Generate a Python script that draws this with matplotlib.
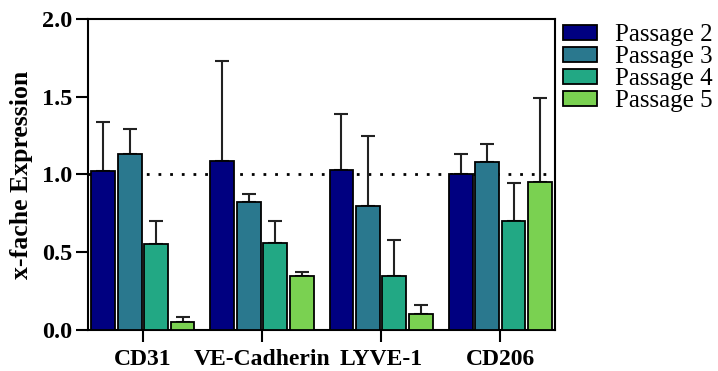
import matplotlib.pyplot as plt
import numpy as np

# Werte
marker = ["CD31", "VE-Cadherin", "LYVE-1", "CD206"]
passagen = ["Passage 2", "Passage 3", "Passage 4", "Passage 5"]
farben = ["#000080", "#2a788e", "#22a884", "#7ad151"]

p2 = [1.02, 1.09, 1.03, 1.00]
p3 = [1.13, 0.82, 0.80, 1.08]
p4 = [0.55, 0.56, 0.35, 0.70]
p5 = [0.05, 0.35, 0.10, 0.95]

p2_err = [0.32, 0.64, 0.36, 0.13]
p3_err = [0.16, 0.055, 0.445, 0.115]
p4_err = [0.15, 0.14, 0.23, 0.245]
p5_err = [0.035, 0.025, 0.06, 0.54]

werte = [p2, p3, p4, p5]
fehler = [p2_err, p3_err, p4_err, p5_err]

plt.rcParams['font.family'] = ['Liberation Serif', 'DejaVu Serif']

fig = plt.figure(figsize=(7.18, 3.71), dpi=100)
ax = fig.add_axes([0.1226, 0.1105, 0.6505, 0.8383])

x = np.arange(len(marker))
schritt = 0.222
breite = 0.2

for i in range(4):
    pos = x + (i - 1.5) * schritt
    ax.bar(pos, werte[i], width=breite, color=farben[i], edgecolor="black",
           linewidth=1.3, label=passagen[i], zorder=3)
    ax.errorbar(pos, werte[i], yerr=[np.zeros(4), fehler[i]], fmt="none",
                ecolor="#222222", elinewidth=1.5, capsize=5, capthick=1.5, zorder=2)

ax.axhline(1.0, color="black", linestyle=(0, (1, 3.2)), linewidth=2, zorder=1)

ax.set_xlim(-0.46, 3.46)
ax.set_ylim(0, 2.0)
ax.set_yticks([0.0, 0.5, 1.0, 1.5, 2.0])
ax.set_yticklabels(["0.0", "0.5", "1.0", "1.5", "2.0"], fontsize=17.5, fontweight="bold")
ax.set_xticks(x)
ax.set_xticklabels(marker, fontsize=17, fontweight="bold")
ax.tick_params(axis="both", width=1.5, length=8.5)
ax.tick_params(axis="y", pad=3)
ax.tick_params(axis="x", pad=5)
ax.set_ylabel("x-fache Expression", fontsize=18.5, fontweight="bold", labelpad=6)

for s in ax.spines.values():
    s.set_linewidth(1.5)

fig.legend(loc="upper left", bbox_to_anchor=(0.784, 0.935), frameon=False,
           fontsize=18, handlelength=1.35, handleheight=0.55, handletextpad=0.75,
           labelspacing=0.0, borderaxespad=0, borderpad=0)

fig.savefig("out.png", dpi=100)
